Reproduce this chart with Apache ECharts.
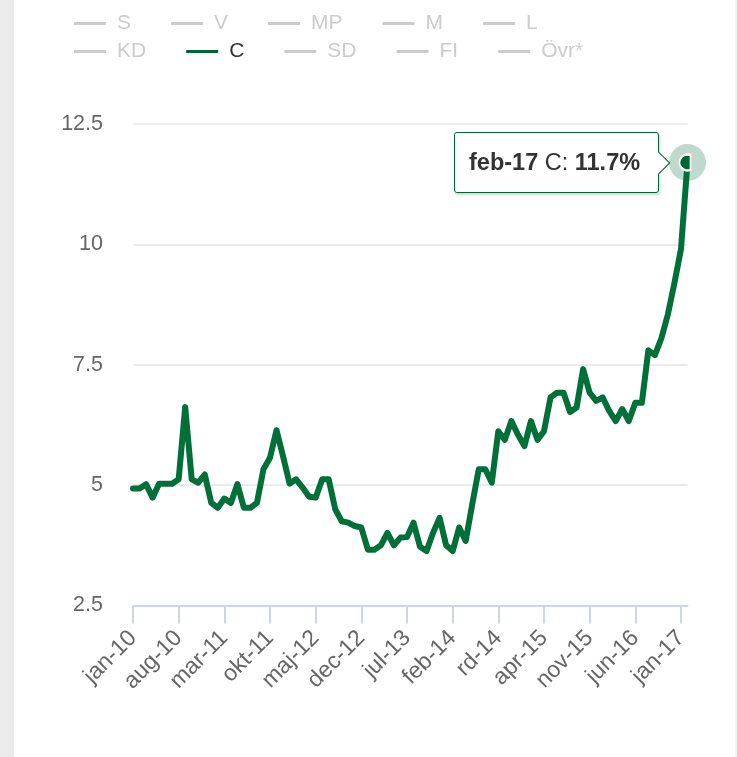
<!DOCTYPE html>
<html>
<head>
<meta charset="utf-8">
<script src="https://cdn.jsdelivr.net/npm/echarts@6/dist/echarts.min.js"></script>
<style>
html, body { margin: 0; padding: 0; background: #fff; }
#strip { position: absolute; left: 0; top: 0; width: 14px; height: 757px; background: #ebebeb; }
#edge { position: absolute; right: 0; top: 0; width: 2px; height: 757px; background: #f3f3f3; }
#chart { position: absolute; left: 0; top: 0; width: 737px; height: 757px; }
</style>
</head>
<body>
<div id="strip"></div>
<div id="edge"></div>
<div id="chart"></div>
<script>
const partyNames = ["S", "V", "MP", "M", "L", "KD", "C", "SD", "FI", "Övr*"];

const months = [
	"jan-10", "feb-10", "mar-10", "apr-10", "maj-10", "jun-10", "jul-10", "aug-10", "sep-10", "okt-10", "nov-10", "dec-10",
	"jan-11", "feb-11", "mar-11", "apr-11", "maj-11", "jun-11", "jul-11", "aug-11", "sep-11", "okt-11", "nov-11", "dec-11",
	"jan-12", "feb-12", "mar-12", "apr-12", "maj-12", "jun-12", "jul-12", "aug-12", "sep-12", "okt-12", "nov-12", "dec-12",
	"jan-13", "feb-13", "mar-13", "apr-13", "maj-13", "jun-13", "jul-13", "aug-13", "sep-13", "okt-13", "nov-13", "dec-13",
	"jan-14", "feb-14", "mar-14", "apr-14", "maj-14", "jun-14", "jul-14", "aug-14", "rd-14", "okt-14", "nov-14", "dec-14",
	"jan-15", "feb-15", "mar-15", "apr-15", "maj-15", "jun-15", "jul-15", "aug-15", "sep-15", "okt-15", "nov-15", "dec-15",
	"jan-16", "feb-16", "mar-16", "apr-16", "maj-16", "jun-16", "jul-16", "aug-16", "sep-16", "okt-16", "nov-16", "dec-16",
	"jan-17", "feb-17"
];

// Centerpartiet, % per month
const cValues = [
	4.93, 4.93, 5.02, 4.74, 5.03, 5.03, 5.03, 5.12, 6.62, 5.12, 5.05, 5.22,
	4.63, 4.53, 4.72, 4.63, 5.02, 4.53, 4.53, 4.63, 5.33, 5.57, 6.14, 5.6,
	5.03, 5.12, 4.95, 4.76, 4.74, 5.12, 5.12, 4.5, 4.25, 4.22, 4.15, 4.12,
	3.66, 3.66, 3.75, 4.01, 3.75, 3.91, 3.92, 4.22, 3.72, 3.63, 4.01, 4.32,
	3.75, 3.63, 4.12, 3.84, 4.6, 5.33, 5.33, 5.05, 6.12, 5.94, 6.33, 6.05,
	5.81, 6.33, 5.94, 6.12, 6.82, 6.92, 6.92, 6.52, 6.61, 7.41, 6.92, 6.75,
	6.82, 6.54, 6.33, 6.58, 6.33, 6.71, 6.71, 7.8, 7.7, 8.05, 8.55, 9.2,
	9.9, 11.7
];

const yTicks = [2.5, 5, 7.5, 10, 12.5];

const green = "#006633";
const font = "'Liberation Sans', Arial, sans-serif";
const lastIndex = cValues.length - 1;
const cIndex = partyNames.indexOf("C");

const createLine = () => {
	var chart = echarts.init(document.getElementById("chart"), null, {
		renderer: "canvas"
	});

	const selected = {};
	partyNames.forEach((name) => {
		selected[name] = name === "C";
	});

	const legendBase = {
		left: 74,
		padding: 0,
		icon: "rect",
		itemWidth: 32,
		itemHeight: 3,
		itemGap: 40,
		inactiveColor: "#cccccc",
		selected: selected,
		textStyle: {
			fontSize: 21,
			color: "#333333",
			fontFamily: font,
			padding: [0, 0, 0, 6]
		}
	};

	const series = partyNames.map((name) => {
		if (name !== "C") {
			return { name: name, type: "line", data: [] };
		}
		return {
			name: "C",
			type: "line",
			data: cValues,
			color: green,
			showSymbol: false,
			symbol: "none",
			lineStyle: { width: 6, color: green, cap: "round", join: "round" },
			markPoint: {
				silent: true,
				label: { show: false },
				data: [
					{
						coord: [lastIndex, cValues[lastIndex]],
						symbol: "circle",
						symbolSize: 37,
						itemStyle: { color: "rgba(0,102,51,0.25)" }
					},
					{
						coord: [lastIndex, cValues[lastIndex]],
						symbol: "path://M3,-7.42 A8,8 0 1,0 3,7.42 Z",
						symbolSize: [11, 16],
						symbolOffset: [-2.5, 0],
						itemStyle: { color: green, borderColor: "#ffffff", borderWidth: 2 }
					}
				]
			}
		};
	});

	var option = {
		animation: false,
		legend: [
			Object.assign({}, legendBase, { top: 13, data: partyNames.slice(0, 5) }),
			Object.assign({}, legendBase, { top: 41, data: partyNames.slice(5) })
		],
		grid: {
			left: 133,
			right: 49.5,
			top: 124,
			bottom: 151.5,
			containLabel: false
		},
		tooltip: {
			trigger: "axis",
			alwaysShowContent: true,
			transitionDuration: 0,
			axisPointer: { type: "none" },
			backgroundColor: "rgba(255,255,255,0.97)",
			borderColor: green,
			borderWidth: 1.5,
			padding: [12, 18, 12, 14],
			textStyle: { fontSize: 23.5, color: "#333333", fontFamily: font },
			extraCssText: "border-radius:3px;box-shadow:1px 2px 3px rgba(0,0,0,0.18);",
			position: function (point, params, dom, rect, size) {
				const p = chart.convertToPixel({ seriesIndex: cIndex }, [lastIndex, cValues[lastIndex]]);
				return [p[0] - 29 - size.contentSize[0], p[1] - size.contentSize[1] / 2];
			},
			formatter: function (params) {
				const p = params[0];
				const arrow =
					'<div style="position:absolute;right:-8.5px;top:50%;width:16px;height:16px;box-sizing:border-box;' +
					"background:#fff;border-top:1.5px solid " + green + ";border-right:1.5px solid " + green + ";" +
					'transform:translateY(-50%) rotate(45deg);"></div>';
				return "<b>" + p.name + "</b> " + p.seriesName + ": <b>" + p.value + "%</b>" + arrow;
			}
		},
		xAxis: {
			type: "category",
			data: months,
			boundaryGap: false,
			axisLine: { lineStyle: { color: "#ccd6eb", width: 2 } },
			axisTick: { interval: 6, length: 18, lineStyle: { color: "#ccd6eb", width: 2 } },
			axisLabel: {
				interval: 6,
				rotate: 45,
				margin: 29,
				fontSize: 23,
				color: "#666666",
				fontFamily: font
			},
			splitLine: { show: false }
		},
		yAxis: {
			type: "value",
			min: yTicks[0],
			max: yTicks[yTicks.length - 1],
			interval: yTicks[1] - yTicks[0],
			axisLine: { show: false },
			axisTick: { show: false },
			axisLabel: {
				margin: 30,
				fontSize: 21.5,
				color: "#666666",
				fontFamily: font
			},
			splitLine: { lineStyle: { color: "#e6e6e6", width: 1.5 } }
		},
		series: series
	};

	chart.setOption(option);
	chart.dispatchAction({ type: "showTip", seriesIndex: cIndex, dataIndex: lastIndex });

	window.addEventListener("resize", chart.resize);
};

createLine();
</script>
</body>
</html>
